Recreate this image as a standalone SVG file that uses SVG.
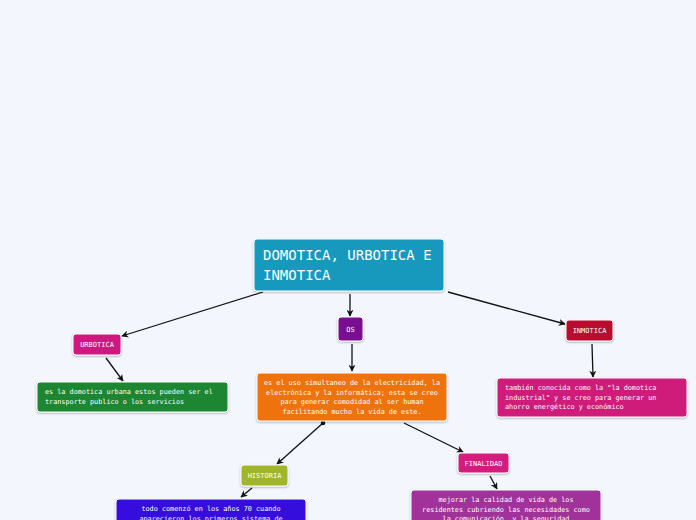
<svg xmlns="http://www.w3.org/2000/svg" width="696" height="520" viewBox="0 0 696 520">
<defs>
<marker id="ah" viewBox="0 0 10 10" refX="9" refY="5" markerWidth="7" markerHeight="7" orient="auto-start-reverse" markerUnits="userSpaceOnUse">
<path d="M0,0 L10,5 L0,10 L3,5 Z" fill="#111"/>
</marker>
<filter id="sh" x="-10%" y="-10%" width="120%" height="140%">
<feDropShadow dx="0" dy="1" stdDeviation="0.8" flood-color="#000" flood-opacity="0.3"/>
</filter>
</defs>
<style>
.box{stroke:#ffffff;stroke-width:1;filter:url(#sh)}
.t{font-family:"DejaVu Sans Mono","Liberation Mono",monospace;fill:#ffffff}
.lbl{font-size:7px;text-anchor:middle}
.sm{font-size:6.8px}
.c{stroke:#111;stroke-width:1.3;fill:none;marker-end:url(#ah)}
</style>
<rect width="696" height="520" fill="#f3f6fd"/>
<g id="connectors">
<line class="c" x1="263" y1="292" x2="122" y2="336"/>
<line class="c" x1="350" y1="294" x2="350" y2="316"/>
<line class="c" x1="448" y1="292" x2="565" y2="324"/>
<line class="c" x1="106" y1="358" x2="123" y2="381"/>
<line class="c" x1="352" y1="344" x2="352" y2="371"/>
<line class="c" x1="592" y1="344" x2="593" y2="377"/>
<line class="c" x1="323" y1="423" x2="277" y2="464"/>
<circle cx="323" cy="423" r="2.3" fill="#111"/>
<line class="c" x1="404" y1="423" x2="463" y2="452"/>
<line class="c" x1="252" y1="488" x2="241" y2="497"/>
<line class="c" x1="490" y1="476" x2="497" y2="489"/>
</g>
<g id="main">
<rect class="box" x="254" y="239" width="190" height="52" rx="3" fill="#1499bd"/>
<text class="t" x="263" y="260" font-size="14">DOMOTICA, URBOTICA E</text>
<text class="t" x="263" y="280" font-size="14">INMOTICA</text>
</g>
<g id="urbotica">
<rect class="box" x="73" y="334" width="48" height="21" rx="3" fill="#d0197f"/>
<text class="t lbl" x="97" y="347">URBOTICA</text>
</g>
<g id="urbotica-desc">
<rect class="box" x="37" y="382" width="191" height="30" rx="3" fill="#1b8633"/>
<text class="t sm" x="45" y="394">es la domotica urbana estos pueden ser el</text>
<text class="t sm" x="45" y="404">transporte publico o los servicios</text>
</g>
<g id="os">
<rect class="box" x="338" y="317" width="25" height="24" rx="3" fill="#7a0f91"/>
<text class="t lbl" x="350.5" y="332">OS</text>
</g>
<g id="os-desc">
<rect class="box" x="257" y="373" width="190" height="48" rx="3" fill="#ee7310"/>
<text class="t sm" x="352" y="385" text-anchor="middle">es el uso simultaneo de la electricidad, la</text>
<text class="t sm" x="352" y="394.5" text-anchor="middle">electrónica y la informática; esta se creo</text>
<text class="t sm" x="352" y="404" text-anchor="middle">para generar comodidad al ser human</text>
<text class="t sm" x="352" y="414" text-anchor="middle">facilitando mucho la vida de este.</text>
</g>
<g id="inmotica">
<rect class="box" x="566" y="320" width="47" height="21" rx="3" fill="#b8102f"/>
<text class="t lbl" x="589.5" y="333">INMOTICA</text>
</g>
<g id="inmotica-desc">
<rect class="box" x="497" y="378" width="190" height="39" rx="3" fill="#cf1a7a"/>
<text class="t sm" x="505" y="390">también conocida como la "la domotica</text>
<text class="t sm" x="505" y="399.5">industrial" y se creo para generar un</text>
<text class="t sm" x="505" y="409">ahorro energético y económico</text>
</g>
<g id="historia">
<rect class="box" x="241" y="465" width="47" height="21" rx="3" fill="#a0b52c"/>
<text class="t lbl" x="264.5" y="478">HISTORIA</text>
</g>
<g id="historia-desc">
<rect class="box" x="116" y="499" width="190" height="35" rx="3" fill="#3610dd"/>
<text class="t sm" x="211" y="511" text-anchor="middle">todo comenzó en los años 70 cuando</text>
<text class="t sm" x="211" y="521" text-anchor="middle">aparecieron los primeros sistema de</text>
</g>
<g id="finalidad">
<rect class="box" x="458" y="453" width="51" height="20" rx="3" fill="#d41a7e"/>
<text class="t lbl" x="483.5" y="466">FINALIDAD</text>
</g>
<g id="finalidad-desc">
<rect class="box" x="411" y="490" width="190" height="40" rx="3" fill="#a0309a"/>
<text class="t sm" x="506" y="502" text-anchor="middle">mejorar la calidad de vida de los</text>
<text class="t sm" x="506" y="511.5" text-anchor="middle">residentes cubriendo las necesidades como</text>
<text class="t sm" x="506" y="521" text-anchor="middle">la comunicación, y la seguridad</text>
</g>
</svg>
